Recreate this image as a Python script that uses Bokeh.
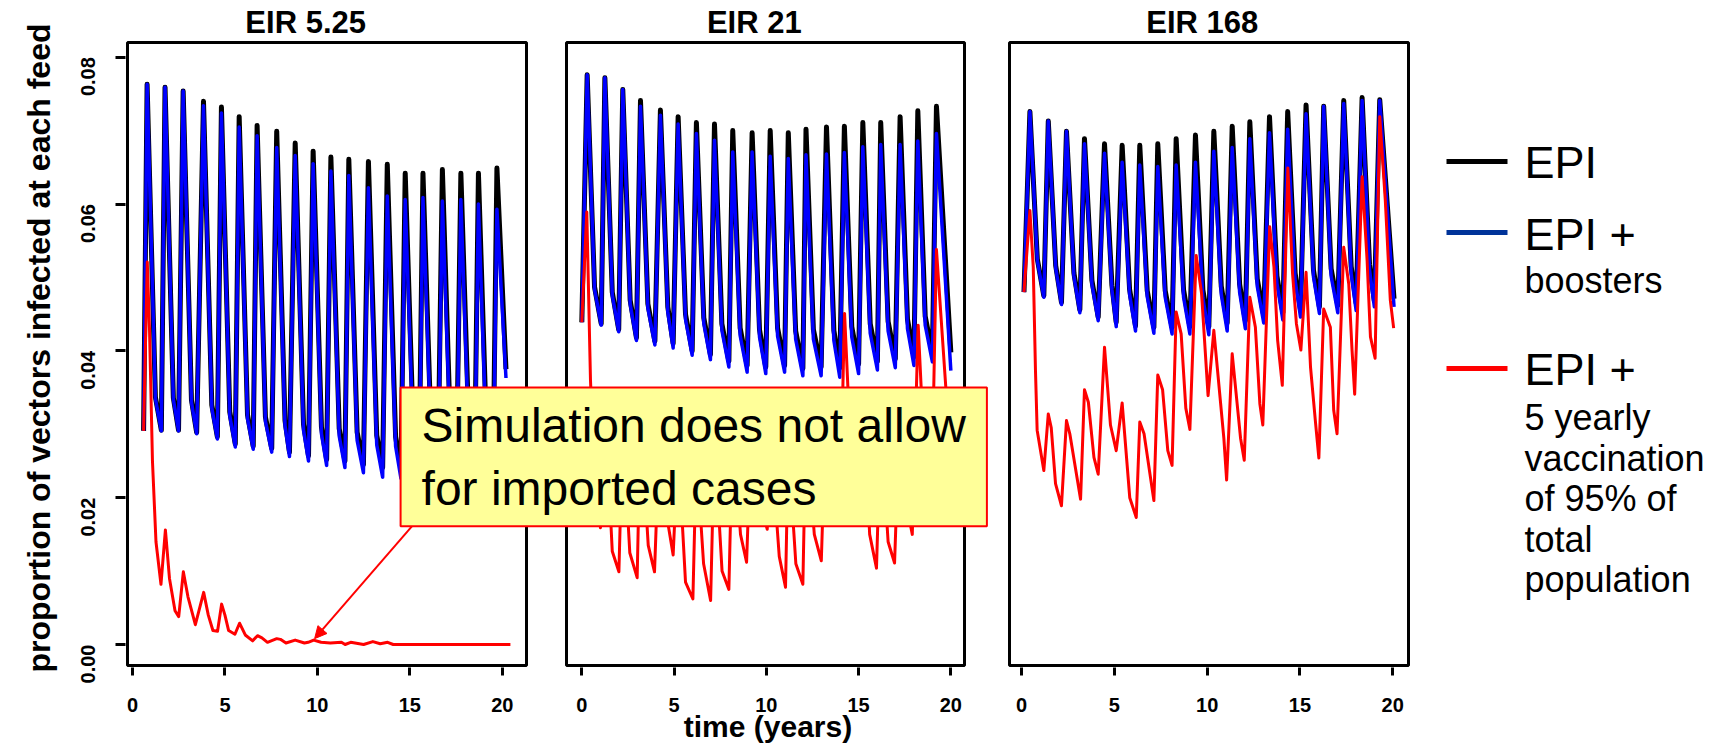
import math
from bokeh.plotting import figure
from bokeh.models import (Range1d, LinearAxis, FixedTicker, BoxAnnotation, Label, Arrow,
                          NormalHead, NumeralTickFormatter, Title)
from bokeh.layouts import row
from bokeh.core.properties import value
from bokeh.embed import file_html
from bokeh.resources import INLINE

# ---------------------------------------------------------------- data
PANEL_TITLES = ["EIR  5.25", "EIR  21", "EIR  168"]
X_TICKS = [0, 5, 10, 15, 20]
X_TICK_LABELS = ["0", "5", "10", "15", "20"]
Y_TICKS = [0.0, 0.02, 0.04, 0.06, 0.08]
SERIES_NAMES = ["EPI", "EPI +", "EPI +"]
X_TITLE = "time (years)"
Y_TITLE = "proportion of vectors infected at each feed"

# ---- panel 1 : EIR 5.25
P1_T_START = 0.6
P1_T_PEAK = [0.79, 1.76, 2.74, 3.84, 4.81, 5.77, 6.74, 7.80, 8.80, 9.77,
             10.73, 11.70, 12.76, 13.78, 14.75, 15.71, 16.76, 17.76, 18.71, 19.71]
P1_T_TROUGH = [1.56, 2.49, 3.47, 4.59, 5.56, 6.53, 7.53, 8.49, 9.52, 10.50,
               11.49, 12.49, 13.53, 14.52, 15.50, 16.52, 17.52, 18.50, 19.50]
P1_T_END = 20.2
P1_KNEE_DT = 0.45
P1_EPI_START = 0.0291
P1_EPI_PEAK = [0.0763, 0.0759, 0.0754, 0.0740, 0.0732, 0.0719, 0.0707, 0.0699, 0.0683, 0.0672,
               0.0664, 0.0661, 0.0658, 0.0654, 0.0642, 0.0642, 0.0647, 0.0642, 0.0642, 0.0649]
P1_EPI_KNEE = [0.0337, 0.0336, 0.0333, 0.0326, 0.0317, 0.0313, 0.0310, 0.0305, 0.0300, 0.0296,
               0.0294, 0.0289, 0.0285, 0.0283, 0.0282, 0.0281, 0.0280, 0.0280, 0.0279]
P1_EPI_TROUGH = [0.0292, 0.0292, 0.0289, 0.0283, 0.0273, 0.0270, 0.0267, 0.0262, 0.0257, 0.0252,
                 0.0250, 0.0245, 0.0241, 0.0239, 0.0238, 0.0237, 0.0236, 0.0236, 0.0235]
P1_EPI_END = 0.0375
P1_BOOST_START = 0.0291
P1_BOOST_PEAK = [0.0763, 0.0759, 0.0754, 0.0734, 0.0724, 0.0705, 0.0693, 0.0677, 0.0666, 0.0655,
                 0.0645, 0.0639, 0.0622, 0.0611, 0.0606, 0.0609, 0.0604, 0.0606, 0.0600, 0.0593]
P1_BOOST_KNEE = [0.0335, 0.0334, 0.0330, 0.0322, 0.0312, 0.0308, 0.0304, 0.0298, 0.0292, 0.0287,
                 0.0284, 0.0278, 0.0272, 0.0270, 0.0268, 0.0266, 0.0265, 0.0264, 0.0263]
P1_BOOST_TROUGH = [0.0291, 0.0291, 0.0287, 0.0280, 0.0269, 0.0266, 0.0262, 0.0256, 0.0250, 0.0244,
                   0.0241, 0.0234, 0.0228, 0.0226, 0.0224, 0.0222, 0.0221, 0.0220, 0.0219]
P1_BOOST_END = 0.0363
P1_RED_T = [0.6, 0.8, 0.92, 1.08, 1.27, 1.54, 1.78, 2.0, 2.3, 2.5, 2.75, 3.0, 3.4, 3.85, 4.1,
            4.35, 4.6, 4.82, 5.0, 5.2, 5.54, 5.79, 6.1, 6.5, 6.76, 7.0, 7.3, 7.8, 8.0, 8.3,
            8.8, 9.3, 9.5, 9.8, 10.2, 10.7, 11.3, 11.5, 11.8, 12.5, 13.0, 13.4, 13.8, 14.1, 20.44]
P1_RED_V = [0.0291, 0.0521, 0.0430, 0.0250, 0.0140, 0.0082, 0.0156, 0.0090, 0.0046, 0.0038,
            0.0099, 0.0065, 0.0027, 0.0071, 0.0040, 0.0019, 0.0018, 0.0055, 0.0040, 0.0019,
            0.0014, 0.0029, 0.0013, 0.0005, 0.0012, 0.0009, 0.0003, 0.0008, 0.0007, 0.0002,
            0.0006, 0.0002, 0.0003, 0.0006, 0.0003, 0.0002, 0.0003, 0.0000, 0.0003, 0.0000,
            0.0004, 0.0001, 0.0003, 0.0000, 0.0000]

# ---- panel 2 : EIR 21
P2_T_START = 0.0
P2_T_PEAK = [0.29, 1.25, 2.22, 3.18, 4.26, 5.22, 6.21, 7.19, 8.18, 9.23,
             10.21, 11.19, 12.15, 13.26, 14.23, 15.23, 16.20, 17.25, 18.21, 19.22]
P2_T_TROUGH = [1.05, 2.00, 2.96, 3.96, 4.95, 5.98, 6.97, 7.97, 8.96, 9.97,
               10.99, 11.98, 12.97, 13.98, 15.00, 16.02, 16.99, 18.00, 19.00]
P2_T_END = 20.0
P2_KNEE_DT = 0.40
P2_EPI_START = 0.0439
P2_EPI_PEAK = [0.0776, 0.0772, 0.0756, 0.0741, 0.0728, 0.0719, 0.0711, 0.0709, 0.0700, 0.0697,
               0.0700, 0.0697, 0.0702, 0.0705, 0.0706, 0.0711, 0.0711, 0.0719, 0.0727, 0.0733]
P2_EPI_KNEE = [0.0487, 0.0480, 0.0469, 0.0464, 0.0460, 0.0450, 0.0445, 0.0437, 0.0431, 0.0429,
               0.0431, 0.0427, 0.0429, 0.0428, 0.0433, 0.0437, 0.0440, 0.0443, 0.0447]
P2_EPI_TROUGH = [0.0437, 0.0429, 0.0418, 0.0413, 0.0410, 0.0400, 0.0395, 0.0386, 0.0380, 0.0378,
                 0.0380, 0.0376, 0.0378, 0.0377, 0.0382, 0.0386, 0.0389, 0.0392, 0.0396]
P2_EPI_END = 0.0398
P2_BOOST_START = 0.0439
P2_BOOST_PEAK = [0.0776, 0.0772, 0.0756, 0.0733, 0.0721, 0.0709, 0.0696, 0.0687, 0.0671, 0.0671,
                 0.0665, 0.0662, 0.0667, 0.0668, 0.0670, 0.0678, 0.0681, 0.0681, 0.0686, 0.0696]
P2_BOOST_KNEE = [0.0484, 0.0476, 0.0464, 0.0458, 0.0453, 0.0443, 0.0437, 0.0428, 0.0421, 0.0419,
                 0.0420, 0.0416, 0.0416, 0.0414, 0.0419, 0.0424, 0.0427, 0.0430, 0.0435]
P2_BOOST_TROUGH = [0.0435, 0.0426, 0.0414, 0.0408, 0.0404, 0.0394, 0.0388, 0.0378, 0.0371, 0.0369,
                   0.0371, 0.0366, 0.0366, 0.0364, 0.0369, 0.0374, 0.0377, 0.0380, 0.0385]
P2_BOOST_END = 0.0373
P2_RED_T = [0.0, 0.27, 0.47, 0.7, 1.01, 1.25, 1.65, 2.01, 2.22, 2.6, 3.0, 3.18, 3.6, 3.94, 4.26,
            4.7, 4.95, 5.22, 5.62, 6.02, 6.21, 6.6, 6.98, 7.19, 7.6, 7.97, 8.18, 8.6, 8.93, 9.23,
            9.7, 10.05, 10.21, 10.7, 11.04, 11.19, 11.6, 11.98, 12.15, 12.6, 12.98, 13.26, 13.7,
            14.0, 14.24, 14.6, 14.95, 15.23, 15.6, 15.97, 16.2, 16.6, 16.95, 17.25, 17.6, 17.91,
            18.23, 18.6, 18.95, 19.22, 19.7, 20.0]
P2_RED_V = [0.0439, 0.0589, 0.0360, 0.0220, 0.0159, 0.0330, 0.0127, 0.0099, 0.0300, 0.0125,
            0.0091, 0.0310, 0.0135, 0.0099, 0.0320, 0.0160, 0.0122, 0.0270, 0.0085, 0.0062,
            0.0260, 0.0110, 0.0060, 0.0280, 0.0100, 0.0075, 0.0300, 0.0150, 0.0112, 0.0330,
            0.0190, 0.0157, 0.0290, 0.0120, 0.0078, 0.0270, 0.0110, 0.0082, 0.0300, 0.0150,
            0.0114, 0.0340, 0.0220, 0.0190, 0.0451, 0.0250, 0.0200, 0.0340, 0.0150, 0.0104,
            0.0300, 0.0140, 0.0111, 0.0330, 0.0190, 0.0150, 0.0435, 0.0240, 0.0190, 0.0538,
            0.0360, 0.0250]

# ---- panel 3 : EIR 168
P3_T_START = 0.13
P3_T_PEAK = [0.45, 1.44, 2.42, 3.39, 4.47, 5.42, 6.37, 7.34, 8.33, 9.37,
             10.36, 11.35, 12.30, 13.36, 14.34, 15.33, 16.28, 17.36, 18.35, 19.30]
P3_T_TROUGH = [1.20, 2.15, 3.14, 4.13, 5.10, 6.14, 7.13, 8.11, 9.07, 10.09,
               11.08, 12.06, 13.05, 14.08, 15.03, 16.05, 17.04, 18.03, 19.01]
P3_T_END = 20.07
P3_KNEE_DT = 0.40
P3_EPI_START = 0.0480
P3_EPI_PEAK = [0.0726, 0.0713, 0.0699, 0.0689, 0.0682, 0.0680, 0.0680, 0.0682, 0.0689, 0.0694,
               0.0699, 0.0706, 0.0712, 0.0719, 0.0726, 0.0735, 0.0733, 0.0741, 0.0745, 0.0742]
P3_EPI_KNEE = [0.0525, 0.0516, 0.0506, 0.0496, 0.0489, 0.0484, 0.0482, 0.0482, 0.0483, 0.0483,
               0.0488, 0.0491, 0.0498, 0.0502, 0.0506, 0.0510, 0.0512, 0.0515, 0.0518]
P3_EPI_TROUGH = [0.0475, 0.0466, 0.0456, 0.0446, 0.0439, 0.0434, 0.0432, 0.0432, 0.0433, 0.0433,
                 0.0438, 0.0441, 0.0448, 0.0452, 0.0456, 0.0460, 0.0462, 0.0465, 0.0468]
P3_EPI_END = 0.0471
P3_BOOST_START = 0.0480
P3_BOOST_PEAK = [0.0726, 0.0713, 0.0699, 0.0682, 0.0669, 0.0657, 0.0653, 0.0651, 0.0653, 0.0657,
                 0.0672, 0.0677, 0.0689, 0.0697, 0.0702, 0.0723, 0.0733, 0.0737, 0.0741, 0.0741]
P3_BOOST_KNEE = [0.0523, 0.0513, 0.0502, 0.0491, 0.0483, 0.0477, 0.0474, 0.0473, 0.0473, 0.0472,
                 0.0477, 0.0480, 0.0488, 0.0492, 0.0496, 0.0501, 0.0502, 0.0505, 0.0510]
P3_BOOST_TROUGH = [0.0473, 0.0463, 0.0452, 0.0441, 0.0433, 0.0427, 0.0424, 0.0423, 0.0423, 0.0422,
                   0.0427, 0.0430, 0.0438, 0.0442, 0.0446, 0.0451, 0.0452, 0.0455, 0.0460]
P3_BOOST_END = 0.0460
P3_RED_T = [0.13, 0.45, 0.63, 0.75, 0.84, 1.2, 1.44, 1.6, 1.83, 2.15, 2.42, 2.6, 3.18, 3.39, 3.6,
            3.9, 4.13, 4.47, 4.79, 5.1, 5.42, 5.83, 6.18, 6.37, 6.6, 7.13, 7.34, 7.6, 7.88, 8.11,
            8.33, 8.6, 8.85, 9.07, 9.41, 9.7, 10.05, 10.36, 10.9, 11.05, 11.35, 11.8, 12.0, 12.3,
            12.6, 12.84, 13.0, 13.37, 13.6, 13.8, 14.05, 14.35, 14.6, 14.81, 15.05, 15.33, 15.57,
            15.83, 16.02, 16.28, 16.64, 16.82, 17.0, 17.36, 17.63, 17.81, 17.95, 18.35, 18.62,
            18.8, 19.05, 19.3, 19.6, 19.87, 20.05]
P3_RED_V = [0.0480, 0.0591, 0.0514, 0.0373, 0.0292, 0.0237, 0.0314, 0.0295, 0.0219, 0.0189,
            0.0305, 0.0287, 0.0198, 0.0347, 0.0330, 0.0255, 0.0232, 0.0405, 0.0299, 0.0264,
            0.0329, 0.0200, 0.0173, 0.0303, 0.0287, 0.0196, 0.0367, 0.0347, 0.0264, 0.0244,
            0.0453, 0.0423, 0.0322, 0.0293, 0.0530, 0.0478, 0.0339, 0.0428, 0.0281, 0.0224,
            0.0396, 0.0281, 0.0251, 0.0473, 0.0432, 0.0328, 0.0299, 0.0569, 0.0514, 0.0414,
            0.0353, 0.0649, 0.0506, 0.0437, 0.0401, 0.0507, 0.0378, 0.0305, 0.0254, 0.0457,
            0.0432, 0.0319, 0.0287, 0.0541, 0.0491, 0.0400, 0.0341, 0.0637, 0.0523, 0.0419,
            0.0390, 0.0719, 0.0605, 0.0469, 0.0431]

ANNOT_TEXT = "Simulation does not allow\nfor imported cases"
ANNOT_TARGET = (9.85, 0.0008)       # point on the EIR 5.25 red curve
LEGEND_SUB_1 = ["boosters"]
LEGEND_SUB_2 = ["5 yearly", "vaccination", "of 95% of", "total", "population"]

# ---------------------------------------------------------------- layout / style
FONT = "Liberation Sans"
C_EPI, C_BOOST, C_RED = "#000000", "#0000FF", "#FF0000"
LEG_COLORS = ["#000000", "#003399", "#FF0000"]
W_MAIN, W_LEG, H = 1412, 307, 747
FR_L, FR_R, FR_T, FR_B = 125, 1410, 0, 667            # plotting frame (px)
BOX_T, BOX_B = 42, 665                                # panel boxes (px)
Y_BOX_HI, Y_BOX_LO = 0.0820, -0.00286                 # values at panel box top / bottom
K = (Y_BOX_HI - Y_BOX_LO) / (BOX_B - BOX_T)           # value per px
Y_LO = Y_BOX_LO - (FR_B - BOX_B) * K
Y_HI = Y_BOX_HI + (BOX_T - FR_T) * K
Y_TITLE_ROW = Y_BOX_HI + (BOX_T - 22) * K             # panel-title centre line

PANELS = [
    dict(name="p1", px=(127, 526), dom=(-0.27, 21.31), title_x=9.6),
    dict(name="p2", px=(566, 964), dom=(-0.83, 20.74), title_x=9.58),
    dict(name="p3", px=(1009, 1408), dom=(-0.65, 20.85), title_x=9.97),
]


def cycles(t0, v0, tp, vp, dk, vk, tt, vt, te, ve):
    xs, ys = [t0], [v0]
    for k in range(len(tp)):
        xs.append(tp[k]); ys.append(vp[k])
        if k < len(tt):
            xs.append(tp[k] + dk); ys.append(vk[k])
            xs.append(tt[k]); ys.append(vt[k])
    xs.append(te); ys.append(ve)
    return xs, ys


SERIES = {
    "p1": [
        cycles(P1_T_START, P1_EPI_START, P1_T_PEAK, P1_EPI_PEAK, P1_KNEE_DT, P1_EPI_KNEE,
               P1_T_TROUGH, P1_EPI_TROUGH, P1_T_END, P1_EPI_END),
        cycles(P1_T_START, P1_BOOST_START, P1_T_PEAK, P1_BOOST_PEAK, P1_KNEE_DT, P1_BOOST_KNEE,
               P1_T_TROUGH, P1_BOOST_TROUGH, P1_T_END, P1_BOOST_END),
        (P1_RED_T, P1_RED_V)],
    "p2": [
        cycles(P2_T_START, P2_EPI_START, P2_T_PEAK, P2_EPI_PEAK, P2_KNEE_DT, P2_EPI_KNEE,
               P2_T_TROUGH, P2_EPI_TROUGH, P2_T_END, P2_EPI_END),
        cycles(P2_T_START, P2_BOOST_START, P2_T_PEAK, P2_BOOST_PEAK, P2_KNEE_DT, P2_BOOST_KNEE,
               P2_T_TROUGH, P2_BOOST_TROUGH, P2_T_END, P2_BOOST_END),
        (P2_RED_T, P2_RED_V)],
    "p3": [
        cycles(P3_T_START, P3_EPI_START, P3_T_PEAK, P3_EPI_PEAK, P3_KNEE_DT, P3_EPI_KNEE,
               P3_T_TROUGH, P3_EPI_TROUGH, P3_T_END, P3_EPI_END),
        cycles(P3_T_START, P3_BOOST_START, P3_T_PEAK, P3_BOOST_PEAK, P3_KNEE_DT, P3_BOOST_KNEE,
               P3_T_TROUGH, P3_BOOST_TROUGH, P3_T_END, P3_BOOST_END),
        (P3_RED_T, P3_RED_V)],
}

p = figure(width=W_MAIN, height=H, output_backend="svg", toolbar_location=None,
           x_range=Range1d(FR_L, FR_R), y_range=Range1d(Y_LO, Y_HI),
           min_border_left=FR_L, min_border_right=W_MAIN - FR_R,
           min_border_top=FR_T, min_border_bottom=H - FR_B, x_axis_type=None)
p.grid.visible = False
p.outline_line_color = None
p.background_fill_color = "white"
p.border_fill_color = "white"

extra = {}
tick_pos, overrides = [], {}
for pn in PANELS:
    L, R = pn["px"]
    lo, hi = pn["dom"]
    s = (hi - lo) / (R - L)
    pn["to_px"] = (lambda t, L=L, lo=lo, s=s: L + (t - lo) / s)
    extra[pn["name"]] = Range1d(lo - (L - FR_L) * s, hi + (FR_R - R) * s)
    for t, lab in zip(X_TICKS, X_TICK_LABELS):
        gx = round(pn["to_px"](t), 3)
        tick_pos.append(gx)
        overrides[gx] = lab
p.extra_x_ranges = extra

xaxis = LinearAxis(ticker=FixedTicker(ticks=tick_pos), major_label_overrides=overrides)
xaxis.axis_line_color = None
xaxis.major_tick_line_width = 3
xaxis.major_tick_out = 8
xaxis.major_tick_in = 0
xaxis.minor_tick_line_color = None
xaxis.major_label_text_font = FONT
xaxis.major_label_text_font_size = "20px"
xaxis.major_label_text_font_style = "bold"
xaxis.major_label_text_color = "black"
xaxis.major_label_standoff = 22
xaxis.axis_label = X_TITLE
xaxis.axis_label_text_font = FONT
xaxis.axis_label_text_font_size = "30px"
xaxis.axis_label_text_font_style = "bold"
xaxis.axis_label_text_color = "black"
xaxis.axis_label_standoff = -5
p.add_layout(xaxis, "below")

ya = p.yaxis[0]
ya.ticker = FixedTicker(ticks=Y_TICKS)
ya.formatter = NumeralTickFormatter(format="0.00")
ya.axis_line_color = None
ya.major_tick_line_width = 3
ya.major_tick_out = 10
ya.major_tick_in = 0
ya.minor_tick_line_color = None
ya.major_label_orientation = math.pi / 2
ya.major_label_text_font = FONT
ya.major_label_text_font_size = "20px"
ya.major_label_text_font_style = "bold"
ya.major_label_text_color = "black"
ya.major_label_standoff = 27

p.add_layout(Title(text=Y_TITLE, align="left", offset=-5, vertical_align="middle",
                   standoff=28, text_font=FONT, text_font_size="32px",
                   text_font_style="bold", text_color="black"), "left")

# data lines
for pn in PANELS:
    (xe, ye), (xb, yb), (xr, yr) = SERIES[pn["name"]]
    p.line(xe, ye, x_range_name=pn["name"], line_color=C_EPI, line_width=5, line_join="round")
    p.line(xb, yb, x_range_name=pn["name"], line_color=C_BOOST, line_width=3.5, line_join="round")
    p.line(xr, yr, x_range_name=pn["name"], line_color=C_RED, line_width=3, line_join="round")

# panel boxes and titles
for pn, title in zip(PANELS, PANEL_TITLES):
    lo, hi = pn["dom"]
    p.add_layout(BoxAnnotation(left=lo, right=hi, bottom=Y_BOX_LO, top=Y_BOX_HI,
                               x_range_name=pn["name"], fill_alpha=0, line_color="black",
                               line_alpha=1.0, line_width=3))
    p.add_layout(Label(x=pn["title_x"], y=Y_TITLE_ROW, x_range_name=pn["name"], text=title,
                       text_align="center", text_baseline="middle", text_font=FONT,
                       text_font_size="31px", text_font_style="bold", text_color="black"))

# annotation
p.add_layout(Arrow(x_start=15.25, y_start=0.0165, x_end=ANNOT_TARGET[0], y_end=ANNOT_TARGET[1],
                   x_range_name="p1", line_color=C_RED, line_width=2,
                   end=NormalHead(size=12, fill_color=C_RED, line_color=C_RED)))
p.add_layout(Label(x=14.50, y=0.0350, x_range_name="p1", text=ANNOT_TEXT, anchor="top_left",
                   text_font=FONT, text_font_size="48px", text_color="black",
                   background_fill_color="#FFFF99", border_line_color=C_RED,
                   border_line_width=2, padding=(21, 11)))

# ---------------------------------------------------------------- legend figure
lg = figure(width=W_LEG, height=H, output_backend="svg", toolbar_location=None,
            x_range=Range1d(0, W_LEG), y_range=Range1d(FR_B, FR_T),
            min_border_left=0, min_border_right=0,
            min_border_top=FR_T, min_border_bottom=H - FR_B,
            x_axis_type=None, y_axis_type=None)
lg.grid.visible = False
lg.outline_line_color = None
LEG_LINE_Y = [161, 232, 368]
LEG_TEXT_Y = [162, 234, 369]
lg.segment(x0=[34] * 3, x1=[95] * 3, y0=LEG_LINE_Y, y1=LEG_LINE_Y, line_color=LEG_COLORS,
           line_width=5)
lg.text(x=[112] * 3, y=LEG_TEXT_Y, text=SERIES_NAMES, text_font=value(FONT),
        text_font_size="45px", text_baseline="alphabetic", text_color="black")
lg.text(x=[112] * len(LEGEND_SUB_1), y=[280], text=LEGEND_SUB_1, text_font=value(FONT),
        text_font_size="36px", text_baseline="alphabetic", text_color="black")
lg.text(x=[112] * len(LEGEND_SUB_2), y=[417, 458, 498, 539, 579], text=LEGEND_SUB_2,
        text_font=value(FONT), text_font_size="36px", text_baseline="alphabetic",
        text_color="black")

layout = row(p, lg)
open("out.html", "w").write(file_html(layout, INLINE))
